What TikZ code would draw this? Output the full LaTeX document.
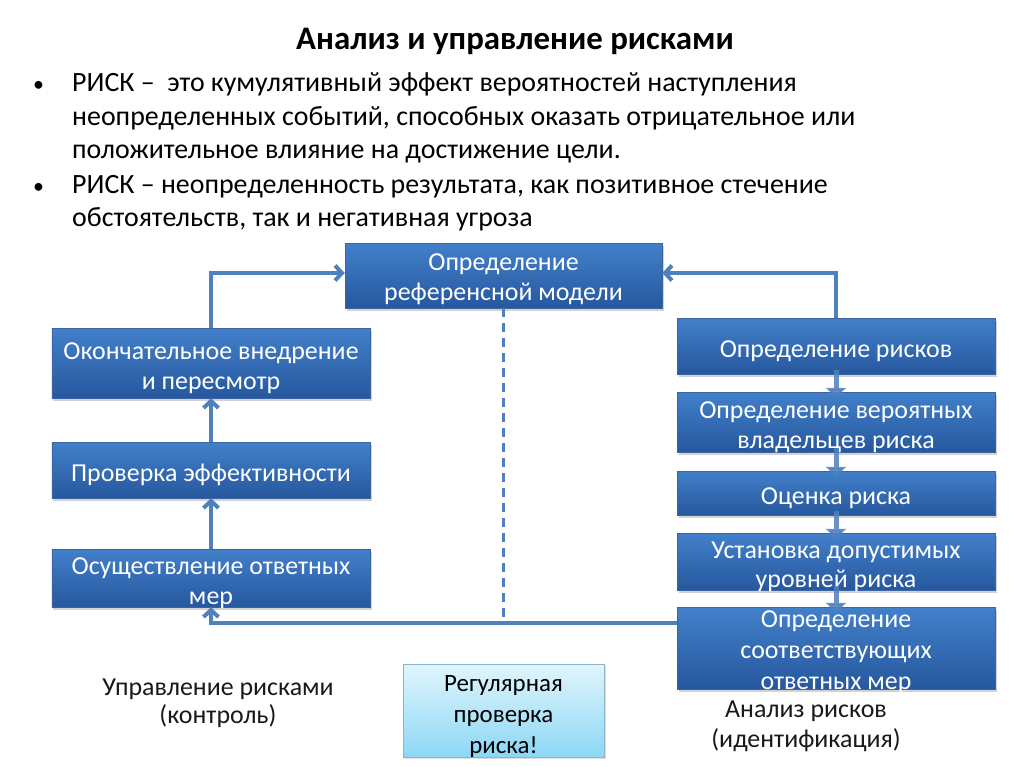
\documentclass[tikz,border=0pt]{standalone}
\usepackage{fontspec}
\setmainfont{Carlito}
\usetikzlibrary{arrows.meta,shadows}
\definecolor{boxtop}{RGB}{66,128,202}
\definecolor{boxbot}{RGB}{38,88,158}
\definecolor{boxline}{RGB}{60,100,160}
\definecolor{arr}{RGB}{79,129,189}
\definecolor{lighttop}{RGB}{225,245,252}
\definecolor{lightbot}{RGB}{140,215,245}
\definecolor{lightline}{RGB}{140,180,200}
\newcommand{\bxt}[2][-5.5bp]{\raisebox{\dimexpr #1-(\height-\depth)/2\relax}[0pt][0pt]{\begin{tabular}{@{}c@{}}#2\end{tabular}}}
\begin{document}
\begin{tikzpicture}[x=1bp,y=-1bp,
  bluebox/.style={rectangle, top color=boxtop, bottom color=boxbot, draw=boxline, line width=0.5bp,
     text=white, font=\fontsize{26}{30}\selectfont, inner sep=0bp,
     drop shadow={shadow xshift=1.5bp, shadow yshift=-3bp, opacity=0.35}},
  conn/.style={draw=arr, line width=4bp},
  upar/.style={conn, -{Straight Barb[length=7bp,width=15bp,line width=4bp]}},
  downtri/.style={draw=arr, line width=5bp, opacity=0.85, -{Triangle[length=10bp,width=20bp]}, shorten >=-6bp, shorten <=-4bp},
  bodytext/.style={anchor=base west, inner sep=0pt, font=\fontsize{28}{33}\selectfont},
  lbl/.style={align=center, font=\fontsize{26}{30}\selectfont, text=black!90}
]
\useasboundingbox (0,0) rectangle (1024,767);
\fill[white] (0,0) rectangle (1024,767);

% title
\node[anchor=base, inner sep=0pt, font=\fontsize{33}{40}\selectfont\bfseries] (title) at (515,50) {Анализ и управление рисками};

% bullets
\node[bodytext, font=\fontsize{22}{30}\selectfont] (b1) at (33,92) {•};
\node[bodytext] (t1) at (72,92) {РИСК –\ \ это кумулятивный эффект вероятностей наступления};
\node[bodytext] (t2) at (72,125) {неопределенных событий, способных оказать отрицательное или};
\node[bodytext] (t3) at (72,158) {положительное влияние на достижение цели.};
\node[bodytext, font=\fontsize{22}{30}\selectfont] (b2) at (33,193) {•};
\node[bodytext] (t4) at (72,193) {РИСК – неопределенность результата, как позитивное стечение};
\node[bodytext] (t5) at (72,226) {обстоятельств, так и негативная угроза};

% top box
\node[bluebox, minimum width=317bp, minimum height=65bp] (ref) at (503.5,275.5) {\bxt[-4bp]{Определение\\референсной модели}};

% left column
\node[bluebox, minimum width=318bp, minimum height=70bp] (L1) at (211,363) {\bxt{Окончательное внедрение\\и пересмотр}};
\node[bluebox, minimum width=318bp, minimum height=56bp] (L2) at (211,470) {\bxt{Проверка эффективности}};
\node[bluebox, minimum width=318bp, minimum height=58bp] (L3) at (211,578) {\bxt{Осуществление ответных\\мер}};

% right column
\node[bluebox, minimum width=318bp, minimum height=56bp] (R1) at (836,346) {\bxt{Определение рисков}};
\node[bluebox, minimum width=318bp, minimum height=60bp] (R2) at (836,422) {\bxt{Определение вероятных\\владельцев риска}};
\node[bluebox, minimum width=318bp, minimum height=44bp] (R3) at (836,493) {\bxt{Оценка риска}};
\node[bluebox, minimum width=318bp, minimum height=57bp] (R4) at (836,561.5) {\bxt{Установка допустимых\\уровней риска}};
\node[bluebox, minimum width=318bp, minimum height=82bp, font=\fontsize{26}{31}\selectfont] (R5) at (836,648) {\bxt[-4bp]{Определение\\соответствующих\\ответных мер}};

% light box
\node[rectangle, top color=lighttop, bottom color=lightbot, draw=lightline, line width=1bp,
      minimum width=201bp, minimum height=93bp, inner sep=0bp, font=\fontsize{25}{31}\selectfont,
      drop shadow={shadow xshift=1.5bp, shadow yshift=-2bp, opacity=0.25}] (reg) at (503.5,710.5) {\bxt[-6bp]{Регулярная\\проверка\\риска!}};

% labels
\node[lbl, anchor=base] (lab1) at (218,695) {Управление рисками};
\node[lbl, anchor=base] (lab1b) at (218,723) {(контроль)};
\node[lbl, anchor=base] (lab2) at (806,717) {Анализ рисков};
\node[lbl, anchor=base] (lab2b) at (806,747) {(идентификация)};

% coordinates
\coordinate (cl) at (211,273);
\coordinate (cr) at (836,273);
\coordinate (cb) at (211,623);
\coordinate (cbr) at (677,623);
\coordinate (cd) at (503.5,623);

% connectors
\draw[upar] (L1.north) -- (cl) -- (ref.west |- cl);
\draw[upar] (R1.north) -- (cr) -- (ref.east |- cr);
\draw[upar] (L2.north) -- (L1.south);
\draw[upar] (L3.north) -- (L2.south);
\draw[upar] (cbr) -- (cb) -- (L3.south);
\draw[draw=arr, line width=3bp, dashed, dash pattern=on 9bp off 6bp] (ref.south) -- (cd);

\draw[downtri] (R1.south) -- (R2.north);
\draw[downtri] (R2.south) -- (R3.north);
\draw[downtri] (R3.south) -- (R4.north);
\draw[downtri] (R4.south) -- (R5.north);
\end{tikzpicture}
\end{document}
